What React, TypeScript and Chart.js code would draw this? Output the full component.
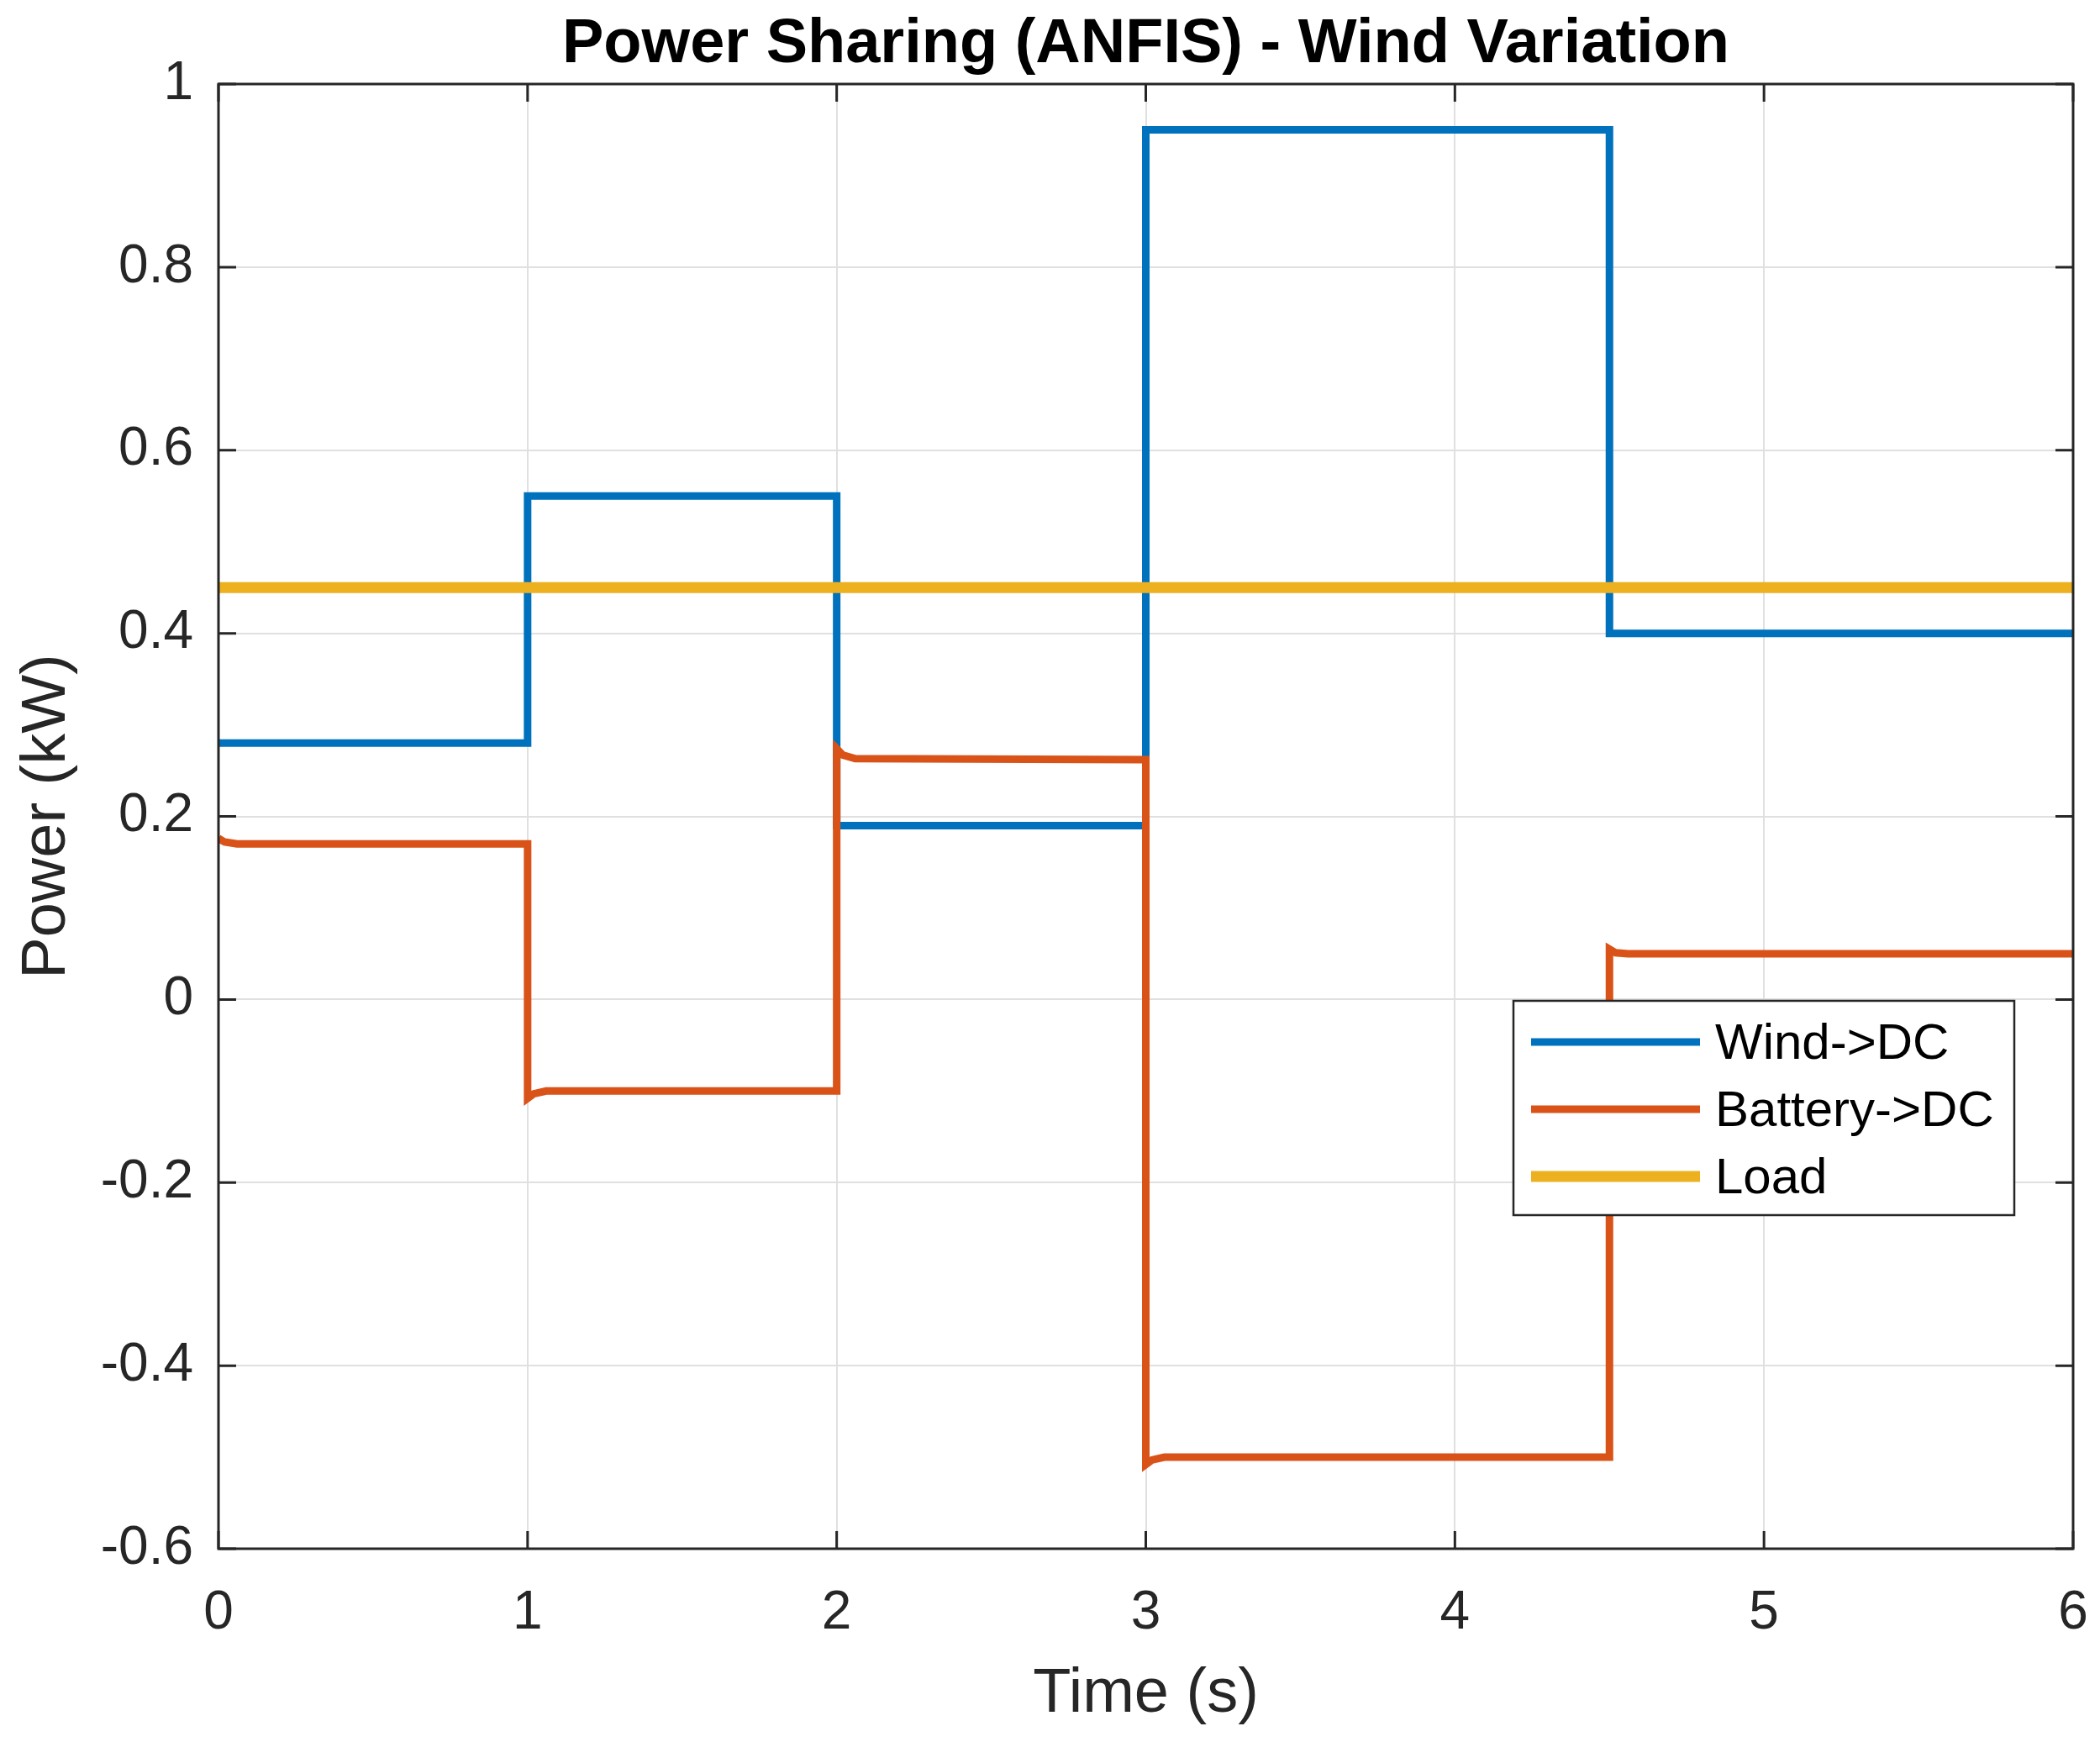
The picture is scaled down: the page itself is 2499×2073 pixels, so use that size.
import React, { useEffect, useRef } from 'react';
import { Chart, registerables } from 'chart.js';

Chart.register(...registerables);

// ---- data ----
const chartTitle = 'Power Sharing (ANFIS) - Wind Variation';
const xAxisTitle = 'Time (s)';
const yAxisTitle = 'Power (kW)';

const seriesLabels = ['Wind->DC', 'Battery->DC', 'Load'];
const seriesColors = ['#0072BD', '#D95319', '#EDB120'];
const seriesWidths = [9, 9, 13];

const windTime = [0, 1, 1, 2, 2, 3, 3, 4.5, 4.5, 6];
const windPower = [0.28, 0.28, 0.55, 0.55, 0.19, 0.19, 0.95, 0.95, 0.4, 0.4];

const batteryTime = [0, 0.02, 0.06, 1, 1, 1.02, 1.06, 2, 2, 2.02, 2.06, 3, 3, 3.02, 3.06, 4.5, 4.5, 4.52, 4.56, 6];
const batteryPower = [0.176, 0.172, 0.17, 0.17, -0.108, -0.103, -0.1, -0.1, 0.274, 0.267, 0.263, 0.262, -0.508, -0.503, -0.5, -0.5, 0.055, 0.051, 0.05, 0.05];

const loadTime = [0, 6];
const loadPower = [0.45, 0.45];

const xTickValues = [0, 1, 2, 3, 4, 5, 6];
const xTickLabels = ['0', '1', '2', '3', '4', '5', '6'];
const yTickValues = [-0.6, -0.4, -0.2, 0, 0.2, 0.4, 0.6, 0.8, 1];
const yTickLabels = ['-0.6', '-0.4', '-0.2', '0', '0.2', '0.4', '0.6', '0.8', '1'];

const FONT = "'Liberation Sans', Arial, Helvetica, sans-serif";
const AXIS_COLOR = '#262626';
const GRID_COLOR = '#e0e0e0';

function toPoints(xs: number[], ys: number[]) {
  return xs.map((x, i) => ({ x, y: ys[i] }));
}

const framePlugin = {
  id: 'matlabFrame',
  beforeDatasetsDraw(chart: any) {
    const { ctx, chartArea, scales } = chart;
    const { left, right, top, bottom } = chartArea;
    const L = 21;
    ctx.save();
    ctx.strokeStyle = AXIS_COLOR;
    ctx.lineWidth = 3;
    ctx.beginPath();
    xTickValues.forEach((v) => {
      const px = scales.x.getPixelForValue(v);
      ctx.moveTo(px, bottom);
      ctx.lineTo(px, bottom - L);
      ctx.moveTo(px, top);
      ctx.lineTo(px, top + L);
    });
    yTickValues.forEach((v) => {
      const py = scales.y.getPixelForValue(v);
      ctx.moveTo(left, py);
      ctx.lineTo(left + L, py);
      ctx.moveTo(right, py);
      ctx.lineTo(right - L, py);
    });
    ctx.stroke();
    ctx.restore();
  },
  afterDatasetsDraw(chart: any) {
    const { ctx, chartArea } = chart;
    const { left, right, top, bottom } = chartArea;
    ctx.save();
    ctx.strokeStyle = AXIS_COLOR;
    ctx.lineWidth = 3;
    ctx.strokeRect(left, top, right - left, bottom - top);

    // title, centred over the plot area
    ctx.fillStyle = '#000000';
    ctx.font = `bold 74px ${FONT}`;
    ctx.textAlign = 'center';
    ctx.textBaseline = 'middle';
    ctx.fillText(chartTitle, (left + right) / 2, 54);

    // legend
    const bx = 1801, by = 1191, bw = 596, bh = 255;
    ctx.fillStyle = '#ffffff';
    ctx.fillRect(bx, by, bw, bh);
    ctx.lineWidth = 2.5;
    ctx.strokeStyle = AXIS_COLOR;
    ctx.strokeRect(bx, by, bw, bh);
    const rowY = [1240, 1320, 1400];
    ctx.font = `60px ${FONT}`;
    ctx.textBaseline = 'middle';
    ctx.textAlign = 'left';
    chart.data.datasets.forEach((ds: any, i: number) => {
      ctx.beginPath();
      ctx.strokeStyle = ds.borderColor;
      ctx.lineWidth = ds.borderWidth;
      ctx.lineCap = 'butt';
      ctx.moveTo(1822, rowY[i]);
      ctx.lineTo(2023, rowY[i]);
      ctx.stroke();
      ctx.fillStyle = '#000000';
      ctx.fillText(ds.label, 2041, rowY[i] + 3);
    });
    ctx.restore();
  },
};

export default function App() {
  const canvasRef = useRef<HTMLCanvasElement | null>(null);

  useEffect(() => {
    document.body.style.margin = '0';
    const canvas = canvasRef.current;
    if (!canvas) return;
    const seriesData = [
      toPoints(windTime, windPower),
      toPoints(batteryTime, batteryPower),
      toPoints(loadTime, loadPower),
    ];
    const chart = new Chart(canvas, {
      type: 'line',
      data: {
        datasets: seriesLabels.map((label, i) => ({
          label,
          data: seriesData[i],
          borderColor: seriesColors[i],
          backgroundColor: seriesColors[i],
          borderWidth: seriesWidths[i],
          pointRadius: 0,
          pointHoverRadius: 0,
          tension: 0,
          fill: false,
          borderJoinStyle: 'miter' as const,
          borderCapStyle: 'butt' as const,
          order: 3 - i,
        })),
      },
      options: {
        animation: false,
        responsive: false,
        devicePixelRatio: 1,
        events: [],
        layout: { padding: { left: 0, right: 32, top: 100, bottom: 0 } },
        plugins: {
          legend: { display: false },
          tooltip: { enabled: false },
          title: { display: false },
        },
        scales: {
          x: {
            type: 'linear',
            min: 0,
            max: 6,
            afterBuildTicks: (scale: any) => {
              scale.ticks = xTickValues.map((v) => ({ value: v }));
            },
            afterFit: (scale: any) => {
              scale.height = 230;
              scale.paddingLeft = 0;
              scale.paddingRight = 0;
            },
            grid: { color: GRID_COLOR, lineWidth: 2, drawTicks: false },
            border: { display: false },
            ticks: {
              color: AXIS_COLOR,
              font: { family: FONT, size: 64 },
              padding: 39,
              maxRotation: 0,
              autoSkip: false,
              callback: (v: any) => {
                const idx = xTickValues.findIndex((t) => Math.abs(t - Number(v)) < 1e-9);
                return idx >= 0 ? xTickLabels[idx] : '';
              },
            },
            title: {
              display: true,
              text: xAxisTitle,
              color: AXIS_COLOR,
              font: { family: FONT, size: 74 },
              padding: { top: 0, bottom: 12 },
            },
          },
          y: {
            type: 'linear',
            min: -0.6,
            max: 1,
            afterBuildTicks: (scale: any) => {
              scale.ticks = yTickValues.map((v) => ({ value: v }));
            },
            afterFit: (scale: any) => {
              scale.width = 260;
            },
            grid: { color: GRID_COLOR, lineWidth: 2, drawTicks: false },
            border: { display: false },
            ticks: {
              color: AXIS_COLOR,
              font: { family: FONT, size: 64 },
              padding: 30,
              autoSkip: false,
              callback: (v: any) => {
                const idx = yTickValues.findIndex((t) => Math.abs(t - Number(v)) < 1e-9);
                return idx >= 0 ? yTickLabels[idx] : '';
              },
            },
            title: {
              display: true,
              text: yAxisTitle,
              color: AXIS_COLOR,
              font: { family: FONT, size: 74 },
              padding: { top: 12, bottom: 0 },
            },
          },
        },
      },
      plugins: [framePlugin],
    } as any);
    return () => chart.destroy();
  }, []);

  return (
    <div style={{ width: 2499, height: 2073, background: '#ffffff' }}>
      <canvas ref={canvasRef} width={2499} height={2073} style={{ display: 'block', width: 2499, height: 2073 }} />
    </div>
  );
}
